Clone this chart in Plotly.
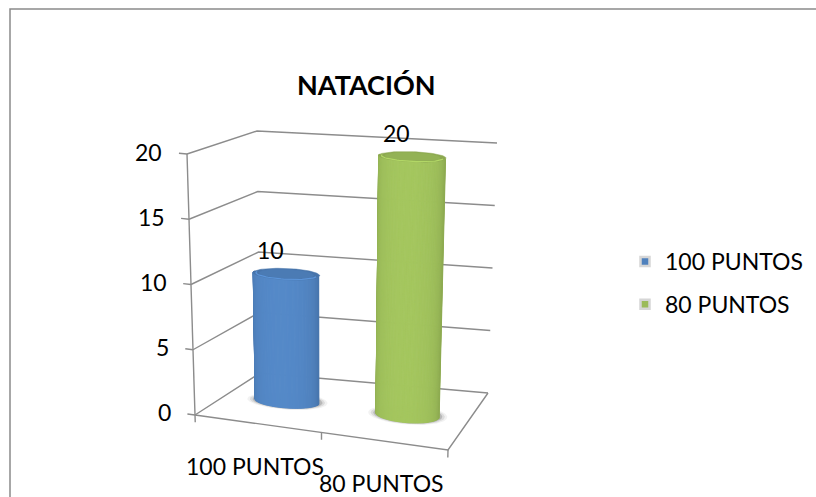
import math
import plotly.graph_objects as go

# ---------------- data ----------------
categories = ["100 PUNTOS", "80 PUNTOS"]
values = [10, 20]
series_names = ["100 PUNTOS", "80 PUNTOS"]
y_ticks = [0, 5, 10, 15, 20]
title_text = "NATACIÓN"

# ---------------- styling ----------------
FONT = "Lato, 'Open Sans', sans-serif"
BASE_COLORS = [(79, 129, 189), (155, 187, 89)]
GRID = "#8c8c8c"
W, H = 816, 497
VMAX = y_ticks[-1]

# projection of the 3-D box (u: category axis 0..1, d: depth 0..1, v: value 0..1)
CORNERS = {
    (0, 0, 0): (195, 415), (1, 0, 0): (448, 450),
    (0, 1, 0): (260, 373), (1, 1, 0): (488, 393),
    (0, 0, 1): (187, 154), (1, 0, 1): (455, 180),
    (0, 1, 1): (257, 131), (1, 1, 1): (497, 143),
}


def P(u, d, val):
    v = val / VMAX
    x = y = 0.0
    for (a, b, c), (px, py) in CORNERS.items():
        w = (u if a else 1 - u) * (d if b else 1 - d) * (v if c else 1 - v)
        x += w * px
        y += w * py
    return x, y


def rgb(c, f=1.0, a=None):
    r, g, b = [max(0, min(255, int(round(ch * f)))) for ch in c]
    if a is None:
        return f"rgb({r},{g},{b})"
    return f"rgba({r},{g},{b},{a})"


fig = go.Figure()


def line(pts, color=GRID, width=1.4):
    fig.add_trace(go.Scatter(x=[p[0] for p in pts], y=[p[1] for p in pts], mode="lines",
                             line=dict(color=color, width=width), hoverinfo="skip",
                             showlegend=False))


def poly(pts, fill, lcolor=None, lw=0.6):
    xs = [p[0] for p in pts] + [pts[0][0]]
    ys = [p[1] for p in pts] + [pts[0][1]]
    fig.add_trace(go.Scatter(x=xs, y=ys, mode="lines", fill="toself", fillcolor=fill,
                             line=dict(color=lcolor or fill, width=lw), hoverinfo="skip",
                             showlegend=False))


# ---- walls & gridlines ----
for t in y_ticks:
    line([P(0, 0, t), P(0, 1, t), P(1, 1, t)])
    line([P(-0.03, 0, t), P(0, 0, t)])
line([P(0, 0, 0), P(0, 0, VMAX)])
line([P(0, 0, 0), P(1, 0, 0), P(1, 1, 0)])
n = len(categories)
for k in range(n + 1):
    u = k / n
    line([P(u, 0, 0), P(u, 0, -0.55)])

# ---- cylinders ----
RU, RD = 0.13, 0.14
NS = 60
for i, (cat, val) in enumerate(zip(categories, values)):
    uc, dc = (i + 0.5) / n, 0.5
    base = BASE_COLORS[i]

    def ring(v, t, s=1.0):
        return P(uc + s * RU * math.cos(t), dc + s * RD * math.sin(t), v)

    full = [k * 2 * math.pi / 90 for k in range(90)]
    # shadow
    for s, a in [(1.24, 0.05), (1.16, 0.09), (1.08, 0.16)]:
        poly([ring(0, t, s) for t in full], "rgba(0,0,0,%s)" % a, lw=0)
    # body strips (front half)
    for k in range(NS):
        t0 = math.pi + k * math.pi / NS
        t1 = math.pi + (k + 1) * math.pi / NS
        s = (k + 0.5) / NS
        shape = max(0.0, 1 - ((s - 0.52) / 0.56) ** 2) ** 0.45
        f = 0.72 + 0.34 * shape
        col = rgb(base, f)
        poly([ring(0, t0), ring(0, t1), ring(val, t1), ring(val, t0)], col, lw=1.0)
    # top cap
    poly([ring(val, t) for t in full], rgb(base, 0.9), lw=0.5)
    poly([ring(val, t, 0.82) for t in full], rgb(base, 0.95), lw=0.5)
    # front rim highlight
    line([ring(val, t, 0.92) for t in [math.pi + k * math.pi / 40 for k in range(41)]],
         color=rgb(base, 1.15), width=1.2)

# ---- legend entries ----
for i, name in enumerate(series_names):
    fig.add_trace(go.Scatter(x=[None], y=[None], mode="markers", name=name,
                             legendgroup=name,
                             marker=dict(symbol="square", size=9, color=rgb(BASE_COLORS[i]),
                                         line=dict(color="#d6d6d6", width=2.5))))

annotations = []
for t in y_ticks:
    x, y = P(-0.085, 0, t)
    annotations.append(dict(x=x, y=y, xref="x", yref="y", text=str(t), showarrow=False,
                            xanchor="right", yanchor="middle",
                            font=dict(family=FONT, size=23, color="#000")))
for i, cat in enumerate(categories):
    x, y = P((i + 0.5) / n, 0, 0)
    annotations.append(dict(x=x, y=y, xref="x", yref="y", text=cat, showarrow=False,
                            xanchor="center", yanchor="middle", yshift=-42, xshift=-3,
                            font=dict(family=FONT, size=23, color="#000")))
for i, val in enumerate(values):
    x, y = P((i + 0.5) / n, 0.5, val)
    annotations.append(dict(x=x, y=y, xref="x", yref="y", text=str(val), showarrow=False,
                            xanchor="center", yanchor="middle", yshift=24, xshift=-16,
                            font=dict(family=FONT, size=23, color="#000")))
annotations.append(dict(x=366 / W, y=1 - 84 / H, xref="paper", yref="paper",
                        text="<b>%s</b>" % title_text,
                        showarrow=False, xanchor="center", yanchor="middle",
                        font=dict(family=FONT, size=27, color="#000")))

fig.update_layout(
    width=W, height=H,
    margin=dict(l=0, r=0, t=0, b=0),
    paper_bgcolor="white", plot_bgcolor="white",
    xaxis=dict(range=[0, W], visible=False, fixedrange=True),
    yaxis=dict(range=[H, 0], visible=False, fixedrange=True),
    showlegend=True,
    legend=dict(x=625 / W, y=1 - 283 / H, xanchor="left", yanchor="middle",
                traceorder="grouped", tracegroupgap=10, bgcolor="rgba(0,0,0,0)",
                font=dict(family=FONT, size=23, color="#000")),
    annotations=annotations,
    shapes=[dict(type="rect", xref="paper", yref="paper", x0=10 / W, x1=1.05, y0=-0.05,
                 y1=1 - 9 / H, line=dict(color="#8a8a8a", width=1.5))],
)

fig.write_html("out.html")
